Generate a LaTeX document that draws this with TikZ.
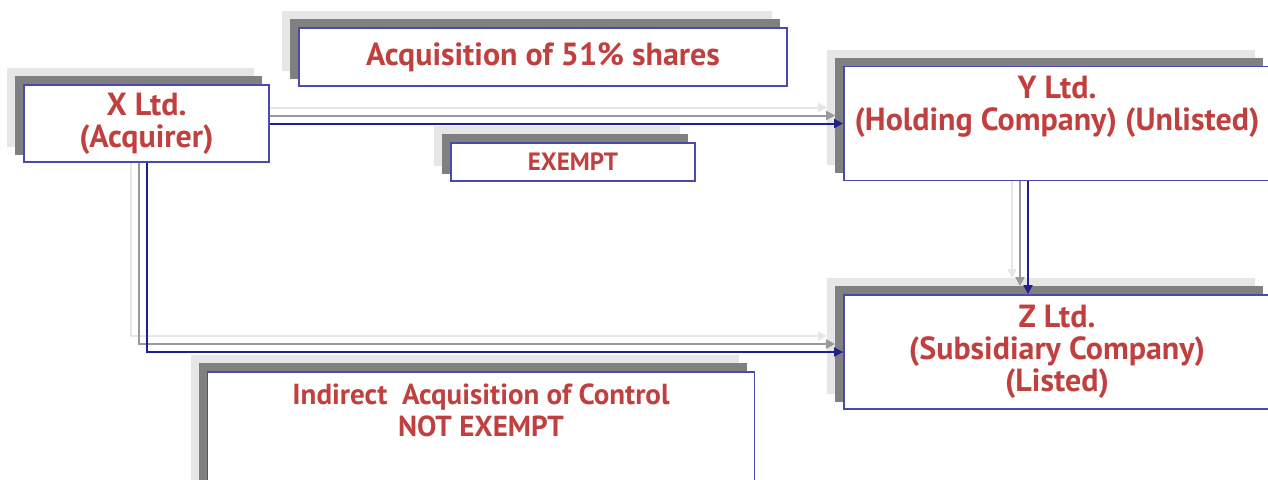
\documentclass[tikz,border=0pt]{standalone}
\usepackage{fontspec}
\setmainfont{PT Sans}
\usetikzlibrary{positioning,arrows.meta}
\definecolor{txtred}{HTML}{C0403F}
\definecolor{boxblue}{HTML}{4A4AAA}
\definecolor{linenavy}{HTML}{20208C}
\definecolor{shdark}{HTML}{808080}
\definecolor{shlight}{HTML}{E6E6E6}
\definecolor{linegray}{HTML}{999999}

\pgfdeclarelayer{lightlayer}
\pgfdeclarelayer{darklayer}
\pgfsetlayers{lightlayer,darklayer,main}

\tikzset{
  cobox/.style={draw=boxblue, line width=0.9pt, fill=white, inner sep=0pt,
    text=txtred, font=\bfseries\fontsize{16}{16}\selectfont, align=center},
  lbl/.style={text=txtred, font=\bfseries\fontsize{16}{16}\selectfont,
    align=center, inner sep=0pt},
  link/.style={line width=1pt, -{Triangle[length=4.5pt,width=4.5pt]}}
}

\begin{document}
\begin{tikzpicture}[x=0.5pt,y=-0.5pt]
  \useasboundingbox (0,0) rectangle (1268,479);

  \node[cobox, minimum width=122.5pt, minimum height=38.5pt] (X) at (146.5,123.5) {X Ltd.\\(Acquirer)};
  \node[cobox, minimum width=244pt, minimum height=29pt] (shares) at (543,57) {Acquisition of 51\% shares};
  \node[cobox, minimum width=122pt, minimum height=19pt,
    font=\bfseries\fontsize{12.5}{13}\selectfont] (exempt) at (573,162) {EXEMPT};

  \node[cobox, minimum width=213pt, minimum height=57pt] (Y) at (1057,123.5) {};
  \node[lbl, below=5pt of Y.north] (Ytext) {Y Ltd.\\(Holding Company) (Unlisted)};

  \node[cobox, minimum width=213pt, minimum height=57pt] (Z) at (1057,352) {Z Ltd.\\(Subsidiary Company)\\(Listed)};

  \node[cobox, minimum width=273.5pt, minimum height=64pt] (indirect) at (481,436) {};
  \node[lbl, font=\bfseries\fontsize{14.5}{16}\selectfont, below=6pt of indirect.north] (indtext)
    {Indirect\ \ Acquisition of Control\\NOT EXEMPT};

  % two shadow copies of every box and connector
  \foreach \s/\c/\f/\l in {8pt/shlight/shlight/lightlayer, 4pt/linegray/shdark/darklayer}
  {
    \begin{pgfonlayer}{\l}
      \foreach \n in {X,shares,exempt,Y,Z,indirect}
        \fill[\f] ([xshift=-\s,yshift=\s]\n.south west) rectangle ([xshift=-\s,yshift=\s]\n.north east);
      \begin{scope}[transform canvas={xshift=-\s, yshift=\s}]
        \draw[link, draw=\c] (X.east) -- (Y.west);
        \draw[link, draw=\c] (X.south) |- (Z.west);
        \draw[link, draw=\c] ([xshift=-14.5pt]Y.south) -- ([xshift=-14.5pt]Z.north);
      \end{scope}
    \end{pgfonlayer}
  }

  \draw[link, draw=linenavy] (X.east) -- (Y.west);
  \draw[link, draw=linenavy] (X.south) |- (Z.west);
  \draw[link, draw=linenavy] ([xshift=-14.5pt]Y.south) -- ([xshift=-14.5pt]Z.north);
\end{tikzpicture}
\end{document}
